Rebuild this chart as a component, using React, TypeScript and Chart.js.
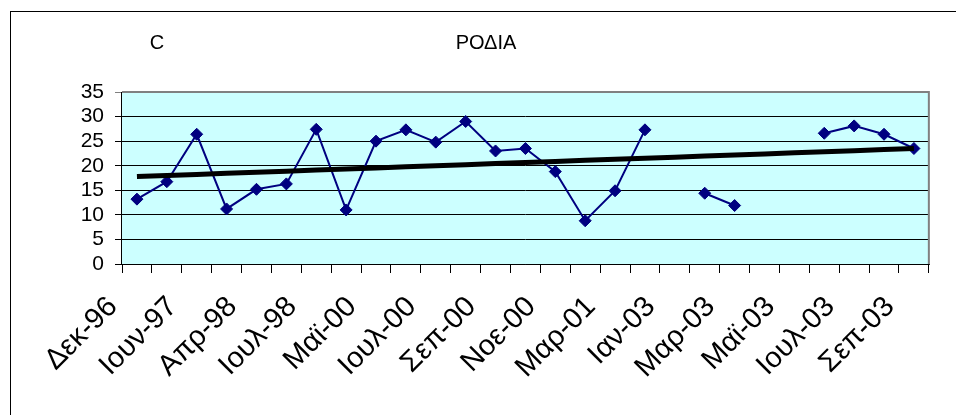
import React, { useEffect, useRef } from "react";
import { Chart, registerables } from "chart.js";

Chart.register(...registerables);

// 27 categories; only every other one carries a visible label
const categories: string[] = [
  "Δεκ-96", "", "Ιουν-97", "", "Απρ-98", "", "Ιουλ-98", "", "Μαϊ-00", "",
  "Ιουλ-00", "", "Σεπ-00", "", "Νοε-00", "", "Μαρ-01", "", "Ιαν-03", "",
  "Μαρ-03", "", "Μαϊ-03", "", "Ιουλ-03", "", "Σεπ-03",
];

const values: (number | null)[] = [
  13.2, 16.75, 26.4, 11.2, 15.2, 16.3, 27.4, 11.0, 25.0, 27.3,
  24.8, 29.0, 23.0, 23.5, 18.8, 8.8, 14.9, 27.3, null, 14.4,
  11.9, null, null, 26.6, 28.1, 26.4, 23.5,
];

const yMin = 0;
const yMax = 35;
const yStep = 5;

const titleText = "ΡΟΔΙΑ";
const unitText = "C";

// linear trend line (least squares over category index, gaps skipped)
function trend(vals: (number | null)[]): number[] {
  const pts = vals
    .map((v, i) => (v === null ? null : [i, v]))
    .filter((p): p is number[] => p !== null);
  const n = pts.length;
  const mx = pts.reduce((s, p) => s + p[0], 0) / n;
  const my = pts.reduce((s, p) => s + p[1], 0) / n;
  let sxy = 0;
  let sxx = 0;
  pts.forEach((p) => {
    sxy += (p[0] - mx) * (p[1] - my);
    sxx += (p[0] - mx) * (p[0] - mx);
  });
  const b = sxy / sxx;
  const a = my - b * mx;
  return vals.map((_, i) => a + b * i);
}

const FONT = "Liberation Sans, Arial, sans-serif";

export default function App() {
  const ref = useRef<HTMLCanvasElement | null>(null);

  useEffect(() => {
    if (!ref.current) return;
    Chart.defaults.font.family = FONT;
    Chart.defaults.color = "#000000";

    const decor = {
      id: "decor",
      beforeDraw(chart: any) {
        const { ctx, chartArea } = chart;
        ctx.save();
        ctx.fillStyle = "#ffffff";
        ctx.fillRect(0, 0, chart.width, chart.height);
        ctx.strokeStyle = "#000000";
        ctx.lineWidth = 1;
        ctx.strokeRect(10.5, 11.5, chart.width + 20, chart.height + 20);
        ctx.fillStyle = "#ccffff";
        ctx.fillRect(
          chartArea.left,
          chartArea.top,
          chartArea.right - chartArea.left,
          chartArea.bottom - chartArea.top
        );
        ctx.fillStyle = "#000000";
        ctx.font = `20px ${FONT}`;
        ctx.textAlign = "center";
        ctx.textBaseline = "middle";
        ctx.fillText(unitText, 157, 43);
        ctx.fillText(titleText, 486, 43);
        ctx.restore();
      },
      beforeDatasetsDraw(chart: any) {
        const { ctx, chartArea } = chart;
        ctx.save();
        ctx.strokeStyle = "#808080";
        ctx.lineWidth = 2;
        ctx.beginPath();
        ctx.moveTo(chartArea.left, chartArea.top);
        ctx.lineTo(chartArea.right, chartArea.top);
        ctx.lineTo(chartArea.right, chartArea.bottom);
        ctx.stroke();
        ctx.strokeStyle = "#000000";
        ctx.lineWidth = 1;
        ctx.beginPath();
        ctx.moveTo(chartArea.left - 0.5, chartArea.top);
        ctx.lineTo(chartArea.left - 0.5, chartArea.bottom);
        ctx.moveTo(chartArea.left - 0.5, chartArea.bottom + 0.5);
        ctx.lineTo(chartArea.right + 1, chartArea.bottom + 0.5);
        ctx.stroke();
        ctx.restore();
      },
    };

    const chart = new Chart(ref.current, {
      type: "line",
      data: {
        labels: categories,
        datasets: [
          {
            label: "trend",
            data: trend(values),
            borderColor: "#000000",
            borderWidth: 5,
            pointRadius: 0,
            fill: false,
            order: 0,
          },
          {
            label: titleText,
            data: values,
            borderColor: "#000080",
            backgroundColor: "#000080",
            borderWidth: 2,
            pointStyle: "rectRot",
            pointRadius: 6,
            pointBorderWidth: 1,
            pointBackgroundColor: "#000080",
            pointBorderColor: "#000080",
            spanGaps: false,
            fill: false,
            order: 1,
          },
        ],
      },
      options: {
        responsive: false,
        animation: false,
        layout: { padding: { left: 0, right: 26, top: 92, bottom: 0 } },
        plugins: {
          legend: { display: false },
          title: { display: false },
          tooltip: { enabled: false },
        },
        scales: {
          x: {
            offset: true,
            grid: {
              offset: true,
              drawOnChartArea: false,
              drawTicks: true,
              tickLength: 9,
              color: "#000000",
            },
            border: { display: false },
            ticks: {
              autoSkip: false,
              minRotation: 45,
              maxRotation: 45,
              color: "#000000",
              font: { family: FONT, size: 29 },
              padding: 17,
              labelOffset: -24,
            },
            afterFit(scale: any) {
              scale.height = 151;
            },
          },
          y: {
            min: yMin,
            max: yMax,
            grid: {
              color: (c: any) => (c.tick && c.tick.value === yMax ? "#808080" : "#000000"),
              drawTicks: true,
              tickLength: 7,
              lineWidth: 1,
            },
            border: { display: false },
            ticks: {
              stepSize: yStep,
              autoSkip: false,
              color: "#000000",
              font: { family: FONT, size: 21 },
              padding: 11,
            },
            afterFit(scale: any) {
              scale.width = 122;
            },
          },
        },
      },
      plugins: [decor],
    });

    return () => chart.destroy();
  }, []);

  return (
    <div style={{ position: "absolute", left: 0, top: 0, width: 956, height: 415 }}>
      <canvas ref={ref} width={956} height={415} style={{ display: "block" }} />
    </div>
  );
}
